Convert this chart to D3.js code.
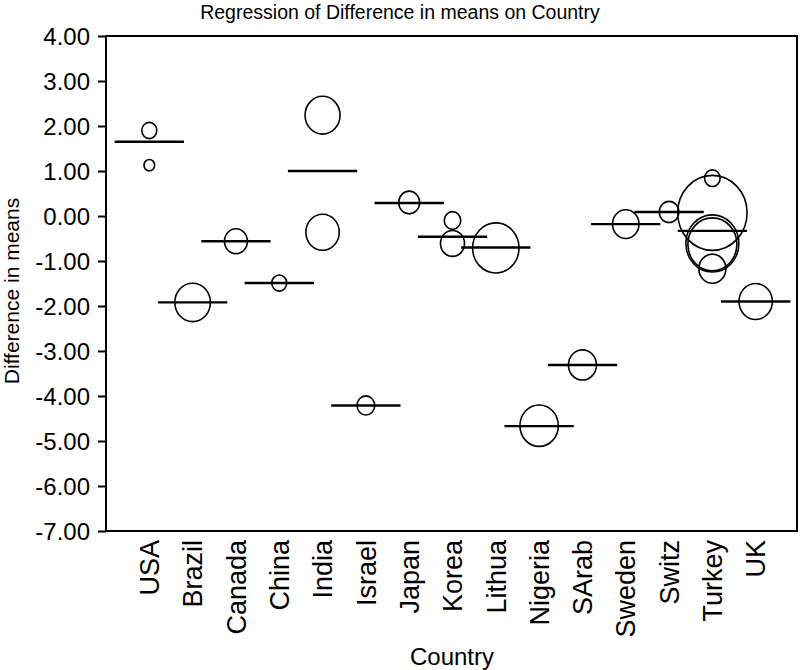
<!DOCTYPE html>
<html>
<head>
<meta charset="utf-8">
<script src="https://cdn.jsdelivr.net/npm/d3@7"></script>
<style>
  body { margin: 0; background: #fff; }
  text { font-family: "Liberation Sans", Arial, sans-serif; fill: #000; }
</style>
</head>
<body>
<svg id="chart" width="800" height="670"></svg>
<script>
// fit line (group mean) per country
const countries = ["USA", "Brazil", "Canada", "China", "India", "Israel", "Japan", "Korea",
  "Lithua", "Nigeria", "SArab", "Sweden", "Switz", "Turkey", "UK"];
const means = [1.65, -1.92, -0.56, -1.49, 1.0, -4.21, 0.29, -0.46,
  -0.7, -4.67, -3.31, -0.18, 0.09, -0.33, -1.9];

// individual studies: country, difference in means, weight (bubble size)
const pointCountry = ["USA", "USA", "Brazil", "Canada", "China", "India", "India", "Israel",
  "Japan", "Korea", "Korea", "Lithua", "Nigeria", "SArab", "Sweden", "Switz",
  "Turkey", "Turkey", "Turkey", "Turkey", "Turkey", "UK"];
const pointValue = [1.9, 1.13, -1.92, -0.56, -1.49, 2.24, -0.36, -4.21,
  0.3, -0.1, -0.61, -0.71, -4.66, -3.31, -0.18, 0.09,
  0.84, 0.07, -0.61, -0.63, -1.17, -1.9];
const pointWeight = [28, 14, 158, 66, 28, 153, 139, 39,
  55, 34, 72, 269, 184, 98, 88, 48,
  30, 602, 351, 300, 91, 139];

const yTicks = d3.range(-7, 5);

const svg = d3.select("#chart");
const plotLeft = 106, plotRight = 797, plotTop = 36, plotBottom = 531;

const x = d3.scalePoint().domain(countries).range([plotLeft, 799]).padding(1);
const y = d3.scaleLinear().domain([-7, 4]).range([plotBottom, plotTop]);
const r = d3.scaleSqrt().domain([0, 600]).range([0, 34.65]);

// frame
svg.append("rect")
  .attr("x", plotLeft).attr("y", plotTop)
  .attr("width", plotRight - plotLeft).attr("height", plotBottom - plotTop)
  .attr("fill", "none").attr("stroke", "#000").attr("stroke-width", 2);

// y axis
const yAxis = svg.append("g")
  .attr("transform", `translate(${plotLeft},0)`)
  .call(d3.axisLeft(y).tickValues(yTicks).tickFormat(d => d.toFixed(2)).tickSize(8).tickPadding(8));
yAxis.select(".domain").remove();
yAxis.selectAll("line").attr("stroke", "#000").attr("stroke-width", 2);
yAxis.selectAll("text").style("font-size", "24px").attr("dy", "0.36em");

// category labels, rotated
svg.append("g").selectAll("text")
  .data(countries)
  .join("text")
  .attr("transform", d => `translate(${x(d)},540) rotate(-90)`)
  .attr("text-anchor", "end")
  .attr("dy", "0.36em")
  .style("font-size", "27px")
  .text(d => d);

// bubbles
const points = pointCountry.map((c, i) => ({ c, v: pointValue[i], w: pointWeight[i] }));
svg.append("g").selectAll("ellipse")
  .data(points)
  .join("ellipse")
  .attr("cx", d => x(d.c))
  .attr("cy", d => y(d.v))
  .attr("rx", d => r(d.w))
  .attr("ry", d => r(d.w) * 1.08)
  .attr("fill", "none")
  .attr("stroke", "#000")
  .attr("stroke-width", 1.6);

// mean lines
const half = x.step() * 0.8;
svg.append("g").selectAll("line")
  .data(countries)
  .join("line")
  .attr("x1", d => x(d) - half)
  .attr("x2", d => x(d) + half)
  .attr("y1", (d, i) => y(means[i]))
  .attr("y2", (d, i) => y(means[i]))
  .attr("stroke", "#000")
  .attr("stroke-width", 2.4);

// titles
svg.append("text")
  .attr("x", 400).attr("y", 19)
  .attr("text-anchor", "middle")
  .style("font-size", "19.5px")
  .text("Regression of Difference in means on Country");

svg.append("text")
  .attr("x", 452).attr("y", 665)
  .attr("text-anchor", "middle")
  .style("font-size", "24px")
  .text("Country");

svg.append("text")
  .attr("transform", "translate(19,291) rotate(-90)")
  .attr("text-anchor", "middle")
  .style("font-size", "21px")
  .text("Difference in means");
</script>
</body>
</html>
